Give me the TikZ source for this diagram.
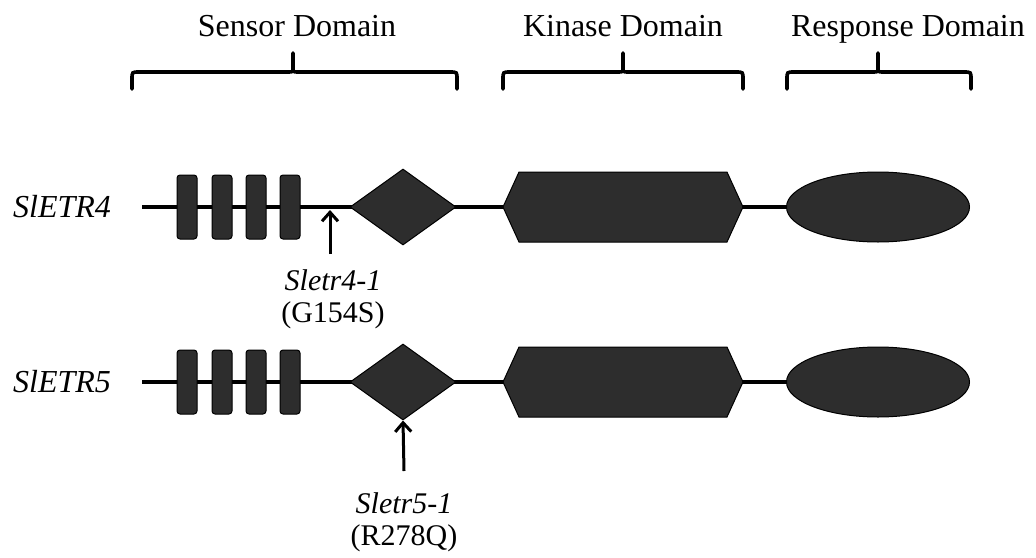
\documentclass[tikz,border=0pt]{standalone}
\usepackage{fontspec}
\setmainfont{Liberation Serif}
\usetikzlibrary{shapes.geometric,arrows.meta}
\definecolor{dom}{RGB}{45,45,45}
\begin{document}
\begin{tikzpicture}[x=1pt,y=-1pt,
  backbone/.style={line width=3.2pt},
  dombox/.style={draw=black,line width=1pt,fill=dom},
  tm/.style={dombox,rectangle,rounded corners=3pt,minimum width=20pt,minimum height=64pt,inner sep=0pt},
  pas/.style={dombox,diamond,minimum width=106pt,minimum height=76pt,inner sep=0pt},
  rec/.style={dombox,ellipse,minimum width=183pt,minimum height=70pt,inner sep=0pt},
  brace/.style={line width=3.6pt,line cap=round},
  title/.style={font=\fontsize{32}{38}\selectfont,anchor=base},
  gene/.style={font=\fontsize{32}{38}\selectfont\itshape,anchor=center},
  mut/.style={font=\fontsize{30}{32}\selectfont,align=center,anchor=north},
  mutarrow/.style={line width=3pt,-{Straight Barb[length=9pt,width=16pt,line width=3pt]}}
]
\useasboundingbox[fill=white] (0,0) rectangle (1036,557);

% titles
\node[title] (tsens) at (297,36) {Sensor Domain};
\node[title] (tkin) at (623,36) {Kinase Domain};
\node[title] (tresp) at (908,36) {Response Domain};

% braces
\foreach \l/\m/\r/\n in {132/293/457/bs, 503/623/743/bk, 787/878/971/br}{
  \draw[brace] (\l,89) -- (\l,79) .. controls (\l,72) .. (\l+7,72) -- (\m-5,72)
     .. controls (\m,72) .. (\m,67) -- (\m,53);
  \draw[brace] (\m,67) .. controls (\m,72) .. (\m+5,72) -- (\r-7,72)
     .. controls (\r,72) .. (\r,79) -- (\r,89);
}

% rows
\foreach \y/\g/\s in {207/SlETR4/a, 382/SlETR5/b}{
  \node[gene] (g\s) at (62,\y) {\g};
  \coordinate (start\s) at (142,\y);
  \node[rec] (ell\s) at (878,\y) {};
  \draw[backbone] (start\s) -- (ell\s.west);
  \node[tm] (t1\s) at (187,\y) {};
  \node[tm] (t2\s) at (222,\y) {};
  \node[tm] (t3\s) at (256,\y) {};
  \node[tm] (t4\s) at (290,\y) {};
  \node[pas] (pas\s) at (403,\y) {};
  \draw[dombox] (503,\y) -- (519,\y-35) -- (727,\y-35) -- (743,\y) -- (727,\y+35) -- (519,\y+35) -- cycle;
  \coordinate (hk\s) at (623,\y);
}

% mutations
\coordinate (tip1) at (330,210);
\coordinate (tail1) at (330,254);
\draw[mutarrow] (tail1) -- (tip1);
\node[mut] (m1) at (333,266) {\itshape Sletr4-1\\(G154S)};

\coordinate (tail2) at (404,471);
\draw[mutarrow] (tail2) -- (pasb.south);
\node[mut] (m2) at (404,489) {\itshape Sletr5-1\\(R278Q)};
\end{tikzpicture}
\end{document}
